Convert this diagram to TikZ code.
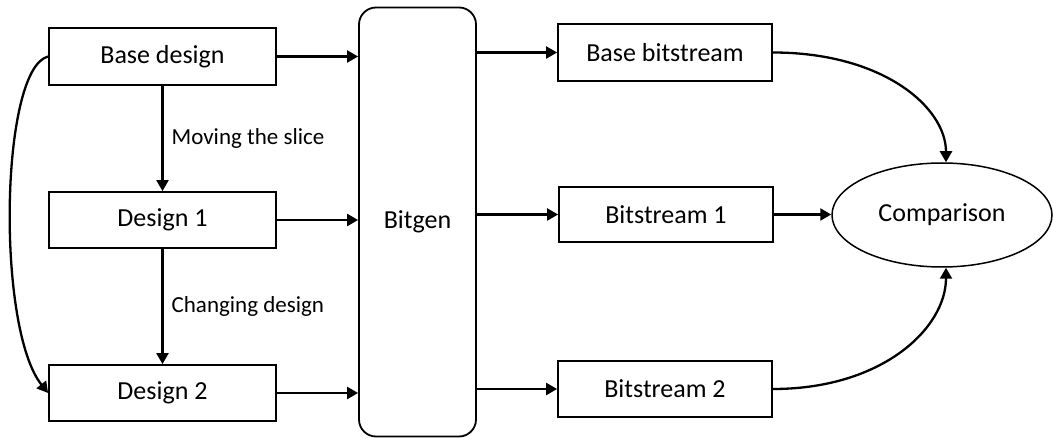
\documentclass[tikz,border=0pt]{standalone}
\usepackage{fontspec}
\setmainfont{Carlito}
\usetikzlibrary{arrows.meta,shapes.geometric,calc}
\tikzset{
  box/.style={draw, line width=1.8pt, rectangle, inner sep=0pt, font=\fontsize{26}{30}\selectfont},
  genbox/.style={draw, line width=1.8pt, rectangle, rounded corners=17pt, inner sep=0pt, font=\fontsize{26}{30}\selectfont},
  oval/.style={draw, line width=1.5pt, ellipse, inner sep=0pt, font=\fontsize{26}{30}\selectfont},
  flow/.style={line width=2.3pt, -{Triangle[length=11pt,width=12pt]}},
  lbl/.style={anchor=west, inner sep=0pt, font=\fontsize{23}{27}\selectfont}
}
\begin{document}
\begin{tikzpicture}[x=1pt,y=-1pt]
  \useasboundingbox (0,0) rectangle (1053,438);
  % design variants
  \node[box, minimum width=227pt, minimum height=57pt] (base) at (162.5,56.5) {Base design};
  \node[box, minimum width=227pt, minimum height=56pt] (d1) at (162.5,220) {Design 1};
  \node[box, minimum width=227pt, minimum height=56pt] (d2) at (162.5,393) {Design 2};
  % bitstream generator
  \node[genbox, minimum width=117pt, minimum height=429pt] (gen) at (417.5,222) {Bitgen};
  % generated bitstreams
  \node[box, minimum width=214pt, minimum height=57pt] (bb) at (665,52.5) {Base bitstream};
  \node[box, minimum width=214pt, minimum height=55pt] (b1) at (666,214.5) {Bitstream 1};
  \node[box, minimum width=214pt, minimum height=56pt] (b2) at (665,389) {Bitstream 2};
  % comparison step
  \node[oval, minimum width=220pt, minimum height=104pt] (cmp) at (942,215) {Comparison};

  % edits between designs
  \draw[flow] (base.south) -- node[lbl, xshift=8pt] {Moving the slice} (d1.north);
  \draw[flow] (d1.south) -- node[lbl, xshift=8pt] {Changing design} (d2.north);
  \draw[flow] (base.west) .. controls ($(base.west)+(-48,12)$) and ($(d2.west)+(-52,-65)$) .. (d2.west);

  % designs into Bitgen
  \draw[flow] (base.east) -- (base.east -| gen.west);
  \draw[flow] (d1.east) -- (d1.east -| gen.west);
  \draw[flow] (d2.east) -- (d2.east -| gen.west);

  % Bitgen outputs
  \draw[flow] (gen.east |- bb.west) -- (bb.west);
  \draw[flow] (gen.east |- b1.west) -- (b1.west);
  \draw[flow] (gen.east |- b2.west) -- (b2.west);

  % bitstreams into comparison
  \coordinate (ctop) at ($(cmp.north)+(4,0)$);
  \coordinate (cbot) at ($(cmp.south)+(4,0)$);
  \draw[flow] (bb.east) .. controls ($(bb.east)+(110,0)$) and ($(ctop)+(0,-55)$) .. (ctop);
  \draw[flow] (b1.east) -- (b1.east -| cmp.west);
  \draw[flow] (b2.east) .. controls ($(b2.east)+(110,0)$) and ($(cbot)+(0,60)$) .. (cbot);
\end{tikzpicture}
\end{document}
